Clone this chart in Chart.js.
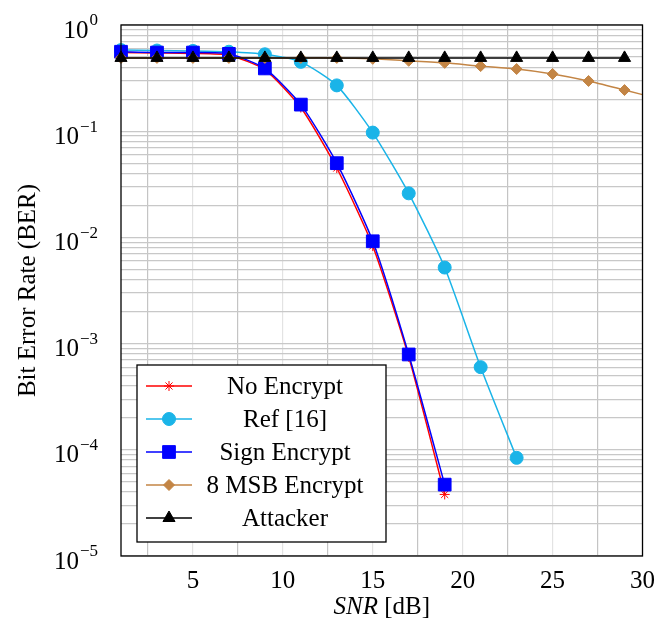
<!DOCTYPE html>
<html>
<head>
<meta charset="utf-8">
<script src="https://cdn.jsdelivr.net/npm/chart.js@4/dist/chart.umd.min.js"></script>
<style>
html,body{margin:0;padding:0;background:#fff;}
#c{display:block;}
</style>
</head>
<body>
<canvas id="c" width="665" height="628"></canvas>
<script>
// SNR points (dB)
const snr = [1,3,5,7,9,11,13,15,17,19,21,23,25,27,29];
const snrMsb = [1,3,5,7,9,11,13,15,17,19,21,23,25,27,29,31];

// BER values
const noEncrypt = [0.55,0.545,0.54,0.52,0.38,0.167,0.045,0.0083,0.00075,0.000038];
const ref16 = [0.58,0.575,0.57,0.56,0.53,0.45,0.27,0.097,0.026,0.0052,0.0006,0.000084];
const signEncrypt = [0.56,0.55,0.55,0.535,0.39,0.178,0.05,0.0092,0.00079,0.000047];
const msbEncrypt = [0.49,0.49,0.49,0.49,0.49,0.49,0.49,0.48,0.46,0.44,0.41,0.385,0.346,0.297,0.244,0.2];
const attacker = [0.49,0.49,0.49,0.49,0.49,0.49,0.49,0.49,0.49,0.49,0.49,0.49,0.49,0.49,0.49];

const xTicks = [2.5,5,7.5,10,12.5,15,17.5,20,22.5,25,27.5,30];
const yTickExps = [-5,-4,-3,-2,-1,0];

const FONT = "'Liberation Serif','DejaVu Serif',serif";

function pts(xs,ys){ return ys.map((v,i)=>({x:xs[i],y:v})); }

function ds(label,xs,ys,color,style,radius,order){
return {
label:label,
data:pts(xs,ys),
borderColor:color,
backgroundColor:color,
borderWidth:1.5,
pointStyle:style,
pointRadius:radius,
pointHoverRadius:radius,
pointBorderWidth:1,
pointBorderColor:color,
pointBackgroundColor:color,
tension:0.2,
order:order,
clip:{left:12,top:12,right:0,bottom:12}
};
}

/* legend drawn inside the plot, bottom-left */
const legendBox = {
id:"legendBox",
afterDraw(chart){
const ctx=chart.ctx, a=chart.chartArea;
const L=a.left+16, T=a.bottom-191, W=249, H=177;
ctx.save();
ctx.fillStyle="#fff";
ctx.fillRect(L,T,W,H);
ctx.strokeStyle="#000";
ctx.lineWidth=1.3;
ctx.strokeRect(L,T,W,H);
chart.data.datasets.forEach((d,i)=>{
let y=T+21+33*i;
ctx.strokeStyle=d.borderColor;
ctx.lineWidth=1.5;
ctx.beginPath();
ctx.moveTo(L+9,y);
ctx.lineTo(L+55,y);
ctx.stroke();
ctx.fillStyle=d.backgroundColor;
ctx.lineWidth=1;
Chart.helpers.drawPoint(ctx,{pointStyle:d.pointStyle,radius:d.pointRadius,borderWidth:1,rotation:0},L+32,y);
ctx.fillStyle="#000";
ctx.font="25px "+FONT;
ctx.textAlign="center";
ctx.textBaseline="middle";
ctx.fillText(d.label,L+148,y+1);
});
ctx.restore();
}
};

/* frame, y labels with exponents, x title */
const decor = {
id:"decor",
afterDatasetsDraw(chart){
const ctx=chart.ctx, a=chart.chartArea, ys=chart.scales.y;
ctx.save();
ctx.strokeStyle="#000";
ctx.lineWidth=1.3;
ctx.strokeRect(a.left,a.top,a.right-a.left,a.bottom-a.top);
ctx.fillStyle="#000";
yTickExps.forEach(e=>{
let y=ys.getPixelForValue(Math.pow(10,e));
let ex=e<0 ? "\u2212"+(-e) : String(e);
ctx.font="17px "+FONT;
let ew=ctx.measureText(ex).width;
ctx.textAlign="left";
ctx.textBaseline="middle";
ctx.fillText(ex,98-ew,y-4);
ctx.font="25px "+FONT;
ctx.textAlign="right";
ctx.fillText("10",97-ew,y+6);
});
// x title: italic SNR + [dB]
ctx.textBaseline="middle";
ctx.textAlign="left";
ctx.font="italic 25px "+FONT;
let w1=ctx.measureText("SNR").width;
ctx.font="25px "+FONT;
let w2=ctx.measureText(" [dB]").width;
let x0=(a.left+a.right)/2-(w1+w2)/2;
ctx.font="italic 25px "+FONT;
ctx.fillText("SNR",x0,607);
ctx.font="25px "+FONT;
ctx.fillText(" [dB]",x0+w1,607);
ctx.restore();
}
};

new Chart(document.getElementById("c"),{
type:"line",
data:{
datasets:[
ds("No Encrypt",snr,noEncrypt,"#ff0000","star",5,5),
ds("Ref [16]",snr,ref16,"#1ab4e8","circle",6.5,4),
ds("Sign Encrypt",snr,signEncrypt,"#0000ff","rect",9,3),
ds("8 MSB Encrypt",snrMsb,msbEncrypt,"#c38545","rectRot",5.5,2),
ds("Attacker",snr,attacker,"#000000","triangle",7,1)
]
},
options:{
responsive:false,
animation:false,
layout:{padding:{top:25,right:14,left:0,bottom:0}},
plugins:{legend:{display:false},tooltip:{enabled:false}},
scales:{
x:{
type:"linear",
min:1,max:30,
afterBuildTicks(s){ s.ticks=xTicks.map(v=>({value:v})); },
afterFit(s){ s.height=72; },
border:{display:false},
grid:{
drawTicks:false,
color:c=>(c.tick && c.tick.value%5===0) ? "#e3e3e3" : "#c4c4c4",
lineWidth:1.2
},
ticks:{
autoSkip:false,
maxRotation:0,
padding:10,
color:"#000",
font:{family:FONT,size:25},
callback:v=>(v%5===0 ? String(v) : "")
}
},
y:{
type:"logarithmic",
min:1e-5,max:1,
afterBuildTicks(s){
let t=[];
for(let e=-5;e<=0;e++){
for(let m=1;m<=9;m++){
let v=m*Math.pow(10,e);
if(v<=1.0000001) t.push({value:v});
}
}
s.ticks=t;
},
afterFit(s){ s.width=121; },
border:{display:false},
grid:{drawTicks:false,color:"#c8c8c8",lineWidth:1.2},
ticks:{display:false},
title:{
display:true,
text:"Bit Error Rate (BER)",
color:"#000",
font:{family:FONT,size:25},
padding:{top:13,bottom:0}
}
}
}
},
plugins:[decor,legendBox]
});
</script>
</body>
</html>
